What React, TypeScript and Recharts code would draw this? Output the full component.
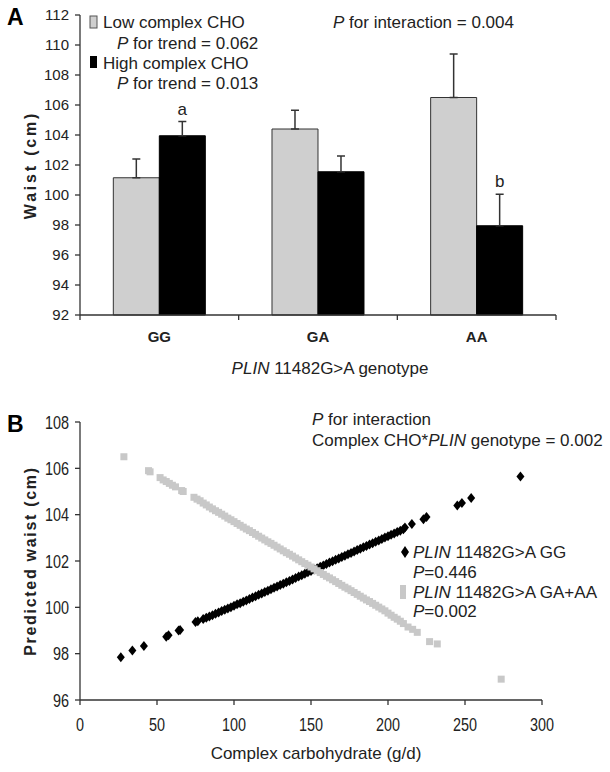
import React from 'react';
import { BarChart, Bar, XAxis, YAxis, ErrorBar, LabelList, ScatterChart, Scatter } from 'recharts';

// Panel A
const genotypes = ['GG', 'GA', 'AA'];
const lowMeans = [101.15, 104.4, 106.5];
const lowErrs = [1.25, 1.25, 2.9];
const highMeans = [103.95, 101.55, 97.95];
const highErrs = [0.95, 1.05, 2.1];
const highNotes = ['a', '', 'b'];
const waistTicks = [92, 94, 96, 98, 100, 102, 104, 106, 108, 110, 112];

// Panel B
const ggCarb = [26.5, 34, 41.5, 56, 57.5, 64, 65, 75, 76.5, 80, 82, 84, 86, 88, 90, 92, 94, 96, 98, 100, 102, 104, 106, 108, 110, 112, 114, 116, 118, 120, 122, 124, 126, 128, 130, 132, 134, 136, 138, 140, 142, 144, 146, 148, 150, 152, 154, 156, 158, 160, 162, 164, 166, 168, 170, 172, 174, 176, 178, 180, 182, 184, 186, 188, 190, 192, 194, 196, 198, 200, 202, 204, 206, 208, 210, 211, 215.5, 223, 225, 245, 248, 254, 286];
const ggWaist = [97.85, 98.14, 98.33, 98.73, 98.8, 99.0, 99.02, 99.37, 99.4, 99.5, 99.55, 99.6, 99.66, 99.72, 99.78, 99.84, 99.9, 99.95, 100.0, 100.07, 100.13, 100.18, 100.24, 100.3, 100.36, 100.42, 100.48, 100.54, 100.6, 100.66, 100.72, 100.78, 100.84, 100.9, 100.96, 101.02, 101.08, 101.14, 101.2, 101.27, 101.33, 101.39, 101.45, 101.51, 101.57, 101.63, 101.69, 101.75, 101.81, 101.87, 101.93, 101.99, 102.05, 102.11, 102.17, 102.23, 102.29, 102.35, 102.41, 102.47, 102.53, 102.59, 102.65, 102.71, 102.77, 102.83, 102.89, 102.95, 103.01, 103.07, 103.13, 103.19, 103.25, 103.31, 103.37, 103.45, 103.6, 103.8, 103.9, 104.4, 104.5, 104.72, 105.65];
const gaCarb = [28.5, 44.5, 45.5, 52, 54, 56, 58, 60, 62, 66, 67, 74, 76, 78, 80, 82, 84, 86, 88, 90, 92, 94, 96, 98, 100, 102, 104, 106, 108, 110, 112, 114, 116, 118, 120, 122, 124, 126, 128, 130, 132, 134, 136, 138, 140, 142, 144, 146, 148, 150, 152, 154, 156, 158, 160, 162, 164, 166, 168, 170, 172, 174, 176, 178, 180, 182, 184, 186, 188, 190, 192, 194, 196, 198, 200, 202, 204, 206, 208, 210, 213, 216, 219, 227, 232, 273.5];
const gaWaist = [106.5, 105.9, 105.85, 105.6, 105.5, 105.43, 105.35, 105.27, 105.2, 105.04, 105.0, 104.75, 104.67, 104.6, 104.5, 104.42, 104.33, 104.25, 104.17, 104.1, 104.02, 103.94, 103.85, 103.78, 103.7, 103.62, 103.54, 103.46, 103.38, 103.31, 103.23, 103.15, 103.07, 102.99, 102.91, 102.83, 102.76, 102.68, 102.6, 102.52, 102.44, 102.36, 102.29, 102.21, 102.13, 102.05, 101.97, 101.89, 101.82, 101.74, 101.66, 101.58, 101.5, 101.42, 101.34, 101.27, 101.19, 101.11, 101.03, 100.95, 100.87, 100.8, 100.72, 100.64, 100.56, 100.48, 100.4, 100.32, 100.25, 100.17, 100.09, 100.01, 99.93, 99.85, 99.75, 99.66, 99.57, 99.49, 99.4, 99.3, 99.15, 99.05, 98.92, 98.52, 98.42, 96.9];
const carbTicks = [0, 50, 100, 150, 200, 250, 300];
const predTicks = [96, 98, 100, 102, 104, 106, 108];

const barData = genotypes.map((g, i) => ({
  name: g,
  low: lowMeans[i],
  lowErr: [0, lowErrs[i]],
  high: highMeans[i],
  highErr: [0, highErrs[i]],
  note: highNotes[i],
}));
const ggData = ggCarb.map((c, i) => ({ carb: c, waist: ggWaist[i] }));
const gaData = gaCarb.map((c, i) => ({ carb: c, waist: gaWaist[i] }));

const FONT = '"Liberation Sans", Arial, sans-serif';
const INK = '#222';
const AXIS = '#333';
const LIGHT = '#cfcfcf';

const HALF_BAND = (556 - 80) / genotypes.length / 2;

const GenotypeTick = (props: any) => {
  const { x, y, payload, index } = props;
  return (
    <g>
      <line x1={x - HALF_BAND} y1={y - 5} x2={x - HALF_BAND} y2={y} stroke={AXIS} strokeWidth={1.3} />
      {index === genotypes.length - 1 && (
        <line x1={x + HALF_BAND} y1={y - 5} x2={x + HALF_BAND} y2={y} stroke={AXIS} strokeWidth={1.3} />
      )}
      <text x={x} y={y + 22} textAnchor="middle" fontWeight="bold" fontSize={15} fill={INK} fontFamily={FONT}>
        {payload.value}
      </text>
    </g>
  );
};

// condensed tick labels for panel B (the original uses a narrow face)
const NarrowXTick = (props: any) => {
  const { x, y, payload } = props;
  return (
    <text transform={`translate(${x},${y + 26}) scale(0.8,1)`} textAnchor="middle" fontSize={18} fill={INK} fontFamily={FONT}>
      {payload.value}
    </text>
  );
};

const NarrowYTick = (props: any) => {
  const { x, y, payload } = props;
  return (
    <text transform={`translate(${x},${y + 6.5}) scale(0.8,1)`} textAnchor="end" fontSize={18} fill={INK} fontFamily={FONT}>
      {payload.value}
    </text>
  );
};

const NoteLabel = (props: any) => {
  const { x, y, width, height, index, value } = props;
  if (!value) return null;
  const pxPerUnit = height / (highMeans[index] - 92);
  const top = y - highErrs[index] * pxPerUnit;
  return (
    <text x={x + width / 2} y={top - 7} textAnchor="middle" fontSize={17} fill={INK} fontFamily={FONT}>
      {value}
    </text>
  );
};

const Diamond = (props: any) => {
  const { cx, cy } = props;
  return <polygon points={`${cx},${cy - 5} ${cx + 4},${cy} ${cx},${cy + 5} ${cx - 4},${cy}`} fill="#000" />;
};

const Square = (props: any) => {
  const { cx, cy } = props;
  return <rect x={cx - 3.5} y={cy - 3.5} width={7} height={7} fill="#c8c8c8" />;
};

const It = ({ children }: any) => <tspan fontStyle="italic">{children}</tspan>;

export default function App() {
  return (
    <div style={{ position: 'absolute', left: 0, top: 0, width: 610, height: 772, background: '#fff', fontFamily: FONT }}>
      <div style={{ position: 'absolute', left: 0, top: 0 }}>
        <BarChart
          width={610}
          height={390}
          data={barData}
          margin={{ top: 15, right: 54, bottom: 45, left: 0 }}
          barCategoryGap="21%"
          barGap={0}
        >
          <XAxis
            dataKey="name"
            height={30}
            interval={0}
            tickSize={5}
            tickMargin={0}
            tickLine={false}
            tick={<GenotypeTick />}
            axisLine={{ stroke: AXIS, strokeWidth: 1.3 }}
          />
          <YAxis
            width={80}
            domain={[92, 112]}
            ticks={waistTicks}
            interval={0}
            tickSize={5}
            tickMargin={6}
            axisLine={{ stroke: AXIS, strokeWidth: 1.3 }}
            tickLine={{ stroke: AXIS, strokeWidth: 1.3 }}
            tick={{ fill: INK, fontSize: 15, fontFamily: FONT }}
          />
          <Bar dataKey="low" fill={LIGHT} stroke={AXIS} strokeWidth={1} isAnimationActive={false}>
            <ErrorBar dataKey="lowErr" width={4} stroke={AXIS} strokeWidth={1.5} direction="y" />
          </Bar>
          <Bar dataKey="high" fill="#000" stroke="#000" strokeWidth={1} isAnimationActive={false}>
            <ErrorBar dataKey="highErr" width={4} stroke={AXIS} strokeWidth={1.5} direction="y" />
            <LabelList dataKey="note" content={<NoteLabel />} />
          </Bar>
        </BarChart>
      </div>

      <div style={{ position: 'absolute', left: 0, top: 380 }}>
        <ScatterChart width={610} height={392} margin={{ top: 42, right: 68, bottom: 42, left: 0 }}>
          <XAxis
            type="number"
            dataKey="carb"
            domain={[0, 300]}
            ticks={carbTicks}
            interval={0}
            height={30}
            tickSize={5}
            tickMargin={0}
            axisLine={{ stroke: AXIS, strokeWidth: 1.3 }}
            tickLine={{ stroke: AXIS, strokeWidth: 1.3 }}
            tick={<NarrowXTick />}
          />
          <YAxis
            type="number"
            dataKey="waist"
            width={80}
            domain={[96, 108]}
            ticks={predTicks}
            interval={0}
            tickSize={5}
            tickMargin={6}
            axisLine={{ stroke: AXIS, strokeWidth: 1.3 }}
            tickLine={{ stroke: AXIS, strokeWidth: 1.3 }}
            tick={<NarrowYTick />}
          />
          <Scatter data={ggData} shape={<Diamond />} isAnimationActive={false} />
          <Scatter data={gaData} shape={<Square />} isAnimationActive={false} />
        </ScatterChart>
      </div>

      <svg
        width={610}
        height={772}
        style={{ position: 'absolute', left: 0, top: 0, pointerEvents: 'none' }}
        fontFamily={FONT}
        fill={INK}
      >
        {/* Panel A */}
        <text x={7} y={25} fontSize={23} fontWeight="bold" fill="#000">A</text>
        <rect x={90} y={16} width={7} height={12} fill={LIGHT} stroke="#555" strokeWidth={1} />
        <text x={103} y={28} fontSize={17}>Low complex CHO</text>
        <text x={117} y={49} fontSize={17}><It>P</It> for trend = 0.062</text>
        <rect x={90} y={56} width={7} height={12} fill="#000" />
        <text x={103} y={69} fontSize={17}>High complex CHO</text>
        <text x={117} y={89} fontSize={17}><It>P</It> for trend = 0.013</text>
        <text x={333} y={28} fontSize={17}><It>P</It> for interaction = 0.004</text>
        <text x={330} y={374} fontSize={17} textAnchor="middle"><It>PLIN</It> 11482G&gt;A genotype</text>
        <text
          transform="translate(36,165) rotate(-90)"
          textAnchor="middle"
          fontSize={16}
          fontWeight="bold"
          letterSpacing={2.8}
        >
          Waist (cm)
        </text>

        {/* Panel B */}
        <text x={7} y={432} fontSize={23} fontWeight="bold" fill="#000">B</text>
        <text x={312} y={425} fontSize={17}><It>P</It> for interaction</text>
        <text x={312} y={446} fontSize={17}>Complex CHO*<It>PLIN</It> genotype = 0.002</text>
        <polygon points="405,546 409,552 405,558 401,552" fill="#000" />
        <text x={413} y={558} fontSize={17}><It>PLIN</It> 11482G&gt;A GG</text>
        <text x={413} y={578} fontSize={17}><It>P</It>=0.446</text>
        <rect x={400} y={585} width={6} height={14} fill="#c8c8c8" />
        <text x={413} y={598} fontSize={17}><It>PLIN</It> 11482G&gt;A GA+AA</text>
        <text x={413} y={617} fontSize={17}><It>P</It>=0.002</text>
        <text x={316} y={759} fontSize={17} textAnchor="middle">Complex carbohydrate (g/d)</text>
        <text
          transform="translate(36,561) rotate(-90)"
          textAnchor="middle"
          fontSize={16}
          fontWeight="bold"
          letterSpacing={1.7}
        >
          Predicted waist (cm)
        </text>
      </svg>
    </div>
  );
}
